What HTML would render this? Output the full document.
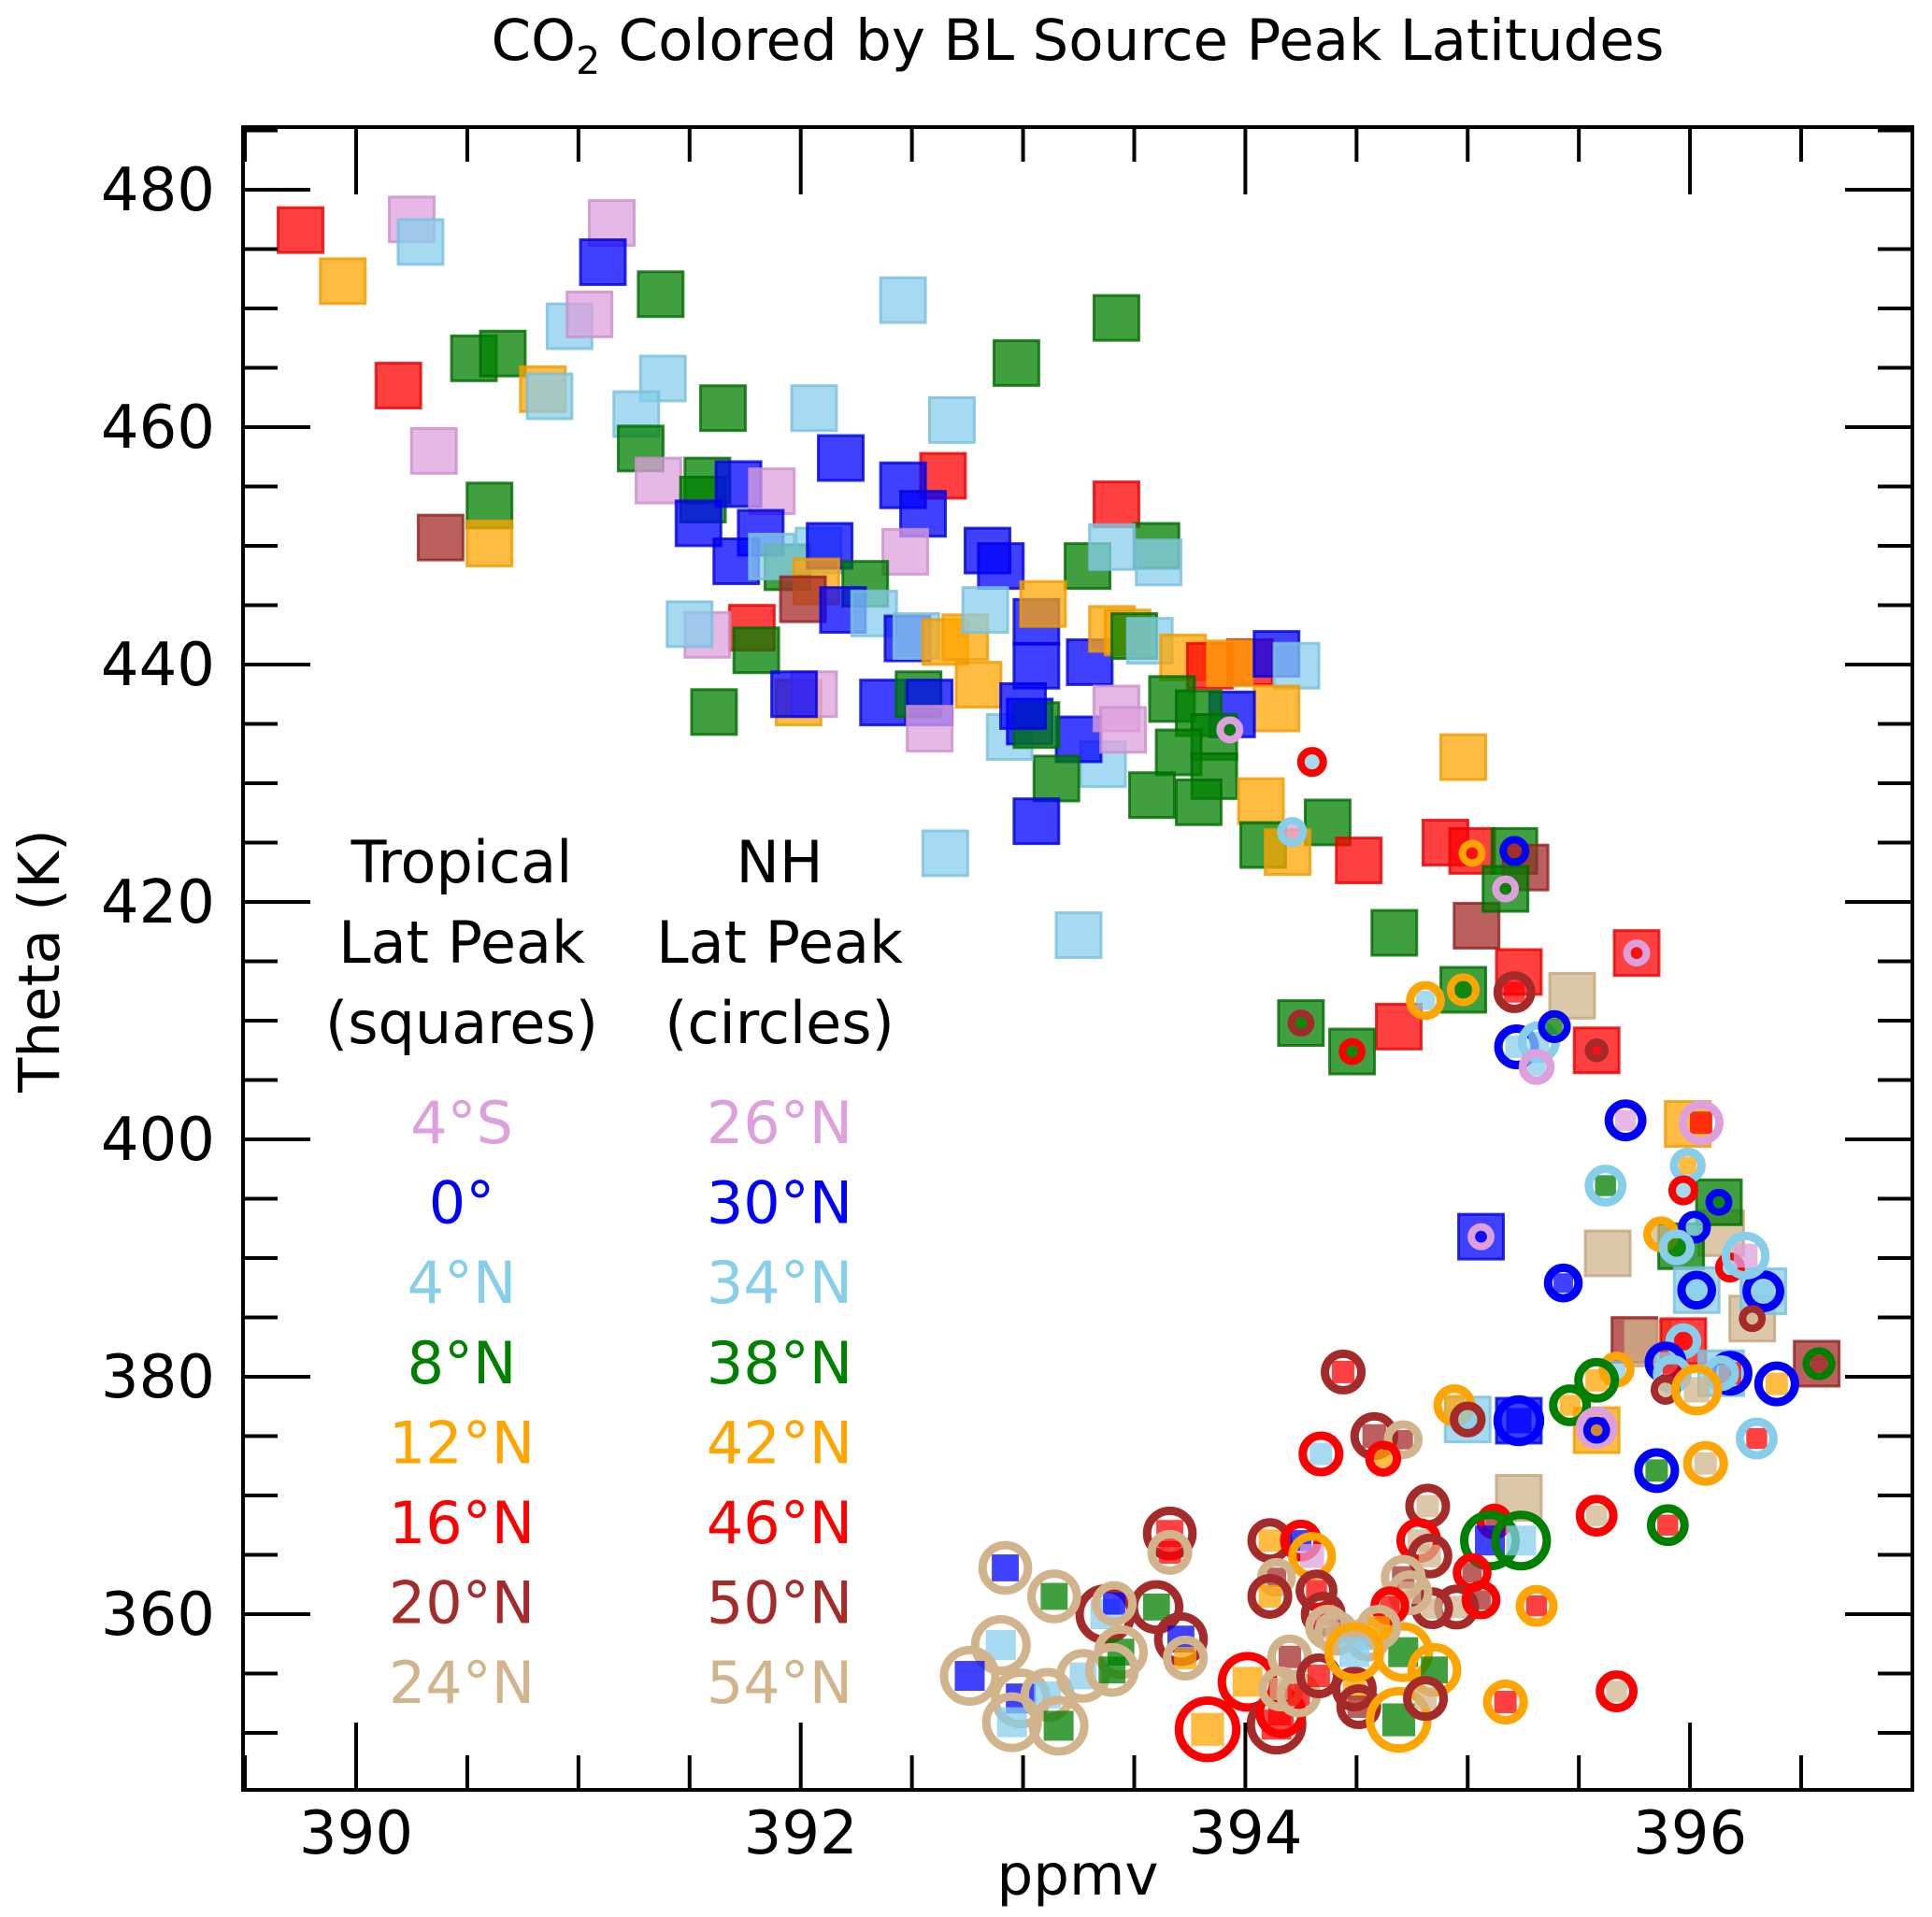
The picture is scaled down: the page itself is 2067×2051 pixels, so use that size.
<!DOCTYPE html>
<html><head><meta charset="utf-8"><style>
html,body{margin:0;padding:0;background:#fff;}
svg{display:block;font-family:"DejaVu Sans","Liberation Sans",sans-serif;}
</style></head><body>
<svg id="chart" xmlns="http://www.w3.org/2000/svg" width="2067" height="2051" viewBox="0 0 2067 2051">
<rect width="2067" height="2051" fill="#fff"/>
<text x="1153" y="64" font-size="61" text-anchor="middle">CO<tspan font-size="41" dy="15">2</tspan><tspan dy="-15"> Colored by BL Source Peak Latitudes</tspan></text>
<g id="marks"></g>
<g id="axes"></g>
<text x="1153" y="2027" font-size="61" text-anchor="middle">ppmv</text>
<text transform="translate(63,1028) rotate(-90)" font-size="61" text-anchor="middle">Theta (K)</text>
<g font-size="62" text-anchor="middle">
<text x="494" y="944">Tropical</text>
<text x="494" y="1030">Lat Peak</text>
<text x="494" y="1116">(squares)</text>
<text x="834" y="944">NH</text>
<text x="834" y="1030">Lat Peak</text>
<text x="834" y="1116">(circles)</text>
</g>
<g id="legend-entries" font-size="62" text-anchor="middle"></g>
</svg>
<script>
const colors = ["#dda0dd","#0000ff","#87ceeb","#008000","#ffa500","#ff0000","#a52a2a","#d2b48c"];
const dark = ["#cc8fcc","#0000e0","#78bfdc","#006a00","#f09a00","#e80000","#922020","#c4a47c"];
const tropLabels = ["4°S","0°","4°N","8°N","12°N","16°N","20°N","24°N"];
const nhLabels = ["26°N","30°N","34°N","38°N","42°N","46°N","50°N","54°N"];
const xTicks = [390,392,394,396];
const yTicks = [360,380,400,420,440,460,480];

// squares: ppmv, theta, color index
const sqX = [389.75,389.94,390.25,390.29,391.15,391.11,390.96,391.05,391.37,390.53,390.66,390.84,390.87,390.19,390.35,390.60,390.60,390.38,392.46,393.42,392.97,391.38,391.26,391.28,391.65,392.06,392.68,392.18,392.64,393.42,391.36,391.58,391.56,391.72,391.87,391.54,391.82,391.71,392.46,392.55,392.47,393.60,393.61,393.29,393.40,392.84,392.90,391.94,391.87,392.08,392.13,392.07,392.01,392.29,392.19,392.33,391.78,391.80,391.58,391.50,392.48,392.52,392.65,392.74,392.80,392.83,393.06,393.09,393.06,393.30,393.40,393.47,393.50,393.57,393.72,393.84,394.02,393.93,394.14,394.23,394.14,393.94,393.67,393.79,393.86,393.70,393.86,393.58,393.79,393.36,393.25,393.15,393.42,393.45,393.06,392.94,393.03,393.06,393.00,392.37,392.53,392.58,392.58,391.99,392.06,391.97,391.61,392.65,393.25,394.07,394.37,394.08,394.19,394.51,394.98,394.67,395.04,394.90,395.02,395.21,395.26,394.69,395.23,395.47,395.58,395.76,395.06,395.63,396.14,395.75,395.81,396.28,396.57,394.25,394.48,394.98,395.17,395.99,396.13,395.96,396.33,396.03,395.97,396.14,395.00,395.23,395.58,395.23];
const sqY = [476.6,472.3,477.5,475.6,477.2,473.9,468.5,469.5,471.2,465.8,466.2,463.2,462.6,463.5,458.0,453.4,450.2,450.7,470.7,469.2,465.4,464.1,461.1,458.2,461.6,461.6,460.6,457.4,455.9,453.5,455.5,455.5,453.9,455.2,454.6,451.9,451.1,448.7,455.1,452.7,449.5,450.0,448.6,448.3,449.9,449.6,448.3,448.2,449.1,449.6,450.0,447.0,445.5,446.8,444.6,444.3,443.1,441.2,442.5,443.4,442.2,442.4,441.9,442.3,438.3,444.6,443.6,445.1,439.9,440.2,443.0,442.7,442.4,442.0,440.6,439.9,440.2,440.1,440.9,439.9,436.3,435.8,437.1,435.9,433.9,432.6,430.6,429.0,428.4,431.6,433.7,430.4,436.3,434.5,426.8,433.9,435.2,434.9,436.5,436.8,437.5,436.8,434.6,436.8,437.5,437.5,436.0,424.1,417.2,428.5,426.7,424.8,424.2,423.5,432.2,417.4,418.0,425.0,424.3,424.3,422.9,409.5,414.1,412.1,407.5,415.7,391.8,390.4,392.1,383.1,382.8,384.9,381.1,409.8,407.4,412.6,421.1,401.3,394.7,391.0,387.2,387.3,383.0,380.3,376.4,376.3,375.5,369.8];
const sqC = [5,4,0,2,0,1,2,0,3,3,3,4,2,5,0,3,4,6,2,3,3,2,2,3,3,2,2,1,5,5,0,3,3,1,0,1,1,1,1,1,0,3,2,3,2,1,1,3,2,2,1,4,6,3,1,2,5,3,0,2,1,2,4,4,4,2,1,4,1,1,4,4,3,2,4,5,5,4,1,2,4,1,3,3,3,3,3,3,3,2,1,3,0,0,1,2,1,3,1,1,3,1,0,4,0,1,3,2,2,4,3,3,4,5,4,3,6,5,5,3,6,5,5,7,5,5,1,7,7,6,7,7,6,3,3,3,3,4,3,3,2,2,5,2,2,1,4,7];

// circles: ppmv, theta, ring color, inner color, marker size
const ciX = [394.30,393.93,394.21,395.02,395.21,395.17,394.25,394.48,394.81,394.98,395.21,395.22,395.32,395.39,395.31,395.58,395.76,395.71,396.05,395.99,395.62,396.13,395.87,396.02,395.94,395.97,395.06,395.43,396.03,396.33,396.18,396.25,396.28,394.44,395.97,395.89,395.92,396.18,396.14,396.39,396.58,395.67,395.58,395.46,394.94,395.00,395.23,395.58,395.58,395.89,396.03,396.30,395.85,396.07,395.58,395.90,394.34,394.58,394.71,394.62,394.82,394.78,394.83,395.12,395.10,395.24,395.02,394.95,395.06,394.84,395.31,395.67,395.17,394.71,394.74,394.11,394.25,394.30,394.14,394.32,394.11,394.35,394.37,394.01,393.83,394.14,394.16,394.20,394.16,394.24,394.33,394.49,394.51,394.55,394.69,394.71,394.85,394.81,394.65,394.60,394.41,394.49,393.66,393.66,393.60,393.37,393.41,393.44,393.71,393.73,392.92,393.14,392.90,392.76,392.99,393.11,392.95,393.16,393.27,393.40];
const ciY = [431.8,434.5,425.9,424.1,424.3,421.1,409.8,407.4,411.7,412.6,412.4,407.8,408.2,409.5,406.1,407.5,415.7,401.6,401.4,397.8,396.1,394.7,392.0,392.6,390.9,395.7,391.8,387.9,387.3,387.2,389.2,390.2,384.9,380.4,383.0,381.2,380.2,380.3,380.3,379.4,381.1,380.6,379.7,377.6,377.6,376.4,376.3,375.7,375.5,378.9,378.9,374.8,372.1,372.7,368.3,367.5,373.5,375.0,374.7,373.1,369.1,366.2,364.9,367.8,366.2,366.2,363.5,360.6,361.2,360.5,360.7,353.5,352.6,363.1,361.8,366.2,366.2,364.9,363.1,362.0,361.5,360.0,358.9,354.3,350.3,350.7,351.7,356.4,353.7,353.2,354.8,353.7,352.2,357.9,351.1,356.8,355.3,352.9,360.7,358.9,358.4,356.8,366.8,365.2,360.6,360.0,360.9,356.8,357.9,356.3,363.9,361.5,357.4,354.8,352.9,353.2,350.9,350.6,354.8,355.3];
const ciRing = [5,0,2,4,1,0,6,5,4,4,6,1,2,1,0,6,0,1,0,2,2,1,4,1,2,5,0,1,1,1,5,2,6,6,2,1,2,1,2,1,3,4,3,3,4,6,1,0,1,6,4,2,1,4,5,3,5,6,7,5,6,5,6,5,3,3,5,6,5,6,4,5,4,7,7,6,5,4,7,6,6,6,7,5,5,6,5,7,7,7,6,6,6,7,4,4,4,6,5,7,7,4,6,7,6,6,7,7,6,7,7,7,7,7,7,7,7,7,7,7];
const ciFill = [2,3,0,5,6,3,3,3,2,3,5,2,2,3,2,5,5,0,5,4,3,3,7,2,3,2,1,1,2,2,2,0,7,5,5,2,5,5,2,4,6,2,4,4,4,2,1,1,4,7,7,5,3,7,7,5,2,6,6,4,7,7,7,6,1,2,6,7,6,7,5,7,5,6,7,4,1,0,6,5,4,5,7,4,4,5,5,6,7,5,5,4,6,2,3,3,3,7,5,4,7,2,5,5,3,2,1,3,1,4,1,3,2,1,1,2,2,3,2,3];
const ciSize = [20,18,20,18,20,18,18,18,26,22,28,30,28,22,24,16,18,28,30,24,28,18,24,22,24,20,18,26,26,28,20,32,18,30,24,28,26,30,24,30,22,24,30,28,28,24,34,28,18,20,34,28,30,30,28,28,30,32,26,24,30,30,30,24,40,40,26,30,26,28,28,28,30,30,30,30,28,32,26,28,30,30,30,40,44,40,34,30,30,30,30,30,30,30,44,40,36,30,26,30,30,40,36,30,36,40,30,36,36,30,36,36,40,40,40,36,40,40,36,36];

const L=260,R=2046,T=136,B=1915;
function X(v){return 381+(v-390)*237.85;}
function Y(v){return 203+(480-v)*12.70;}
const NS="http://www.w3.org/2000/svg";
function mk(tag,attrs,parent){const e=document.createElementNS(NS,tag);for(const k in attrs)e.setAttribute(k,attrs[k]);parent.appendChild(e);return e;}
const marks=document.getElementById('marks');
const clip=mk('clipPath',{id:'pc'},marks);mk('rect',{x:L,y:T,width:R-L,height:B-T},clip);
marks.setAttribute('clip-path','url(#pc)');
const S=48;
for(let i=0;i<sqX.length;i++){
  const r=mk('rect',{x:X(sqX[i])-S/2,y:Y(sqY[i])-S/2,width:S,height:S,fill:colors[sqC[i]],'fill-opacity':0.75,stroke:dark[sqC[i]],'stroke-opacity':0.8,'stroke-width':3},marks);
  
  
}
const k=1.6;
for(let i=0;i<ciX.length;i++){
  const cx=X(ciX[i]),cy=Y(ciY[i]),d=ciSize[i]*k;
  const s=d*0.5;
  const q=mk('rect',{x:cx-s/2,y:cy-s/2,width:s,height:s,fill:colors[ciFill[i]],'fill-opacity':0.75},marks);
  
  
  const sw=d<36?8:9;
  const c=mk('circle',{cx:cx,cy:cy,r:d/2-sw/2,fill:'none',stroke:colors[ciRing[i]],'stroke-width':sw},marks);
  
  
}
const axes=document.getElementById('axes');
const fr=mk('rect',{x:L,y:T,width:R-L,height:B-T,fill:'none',stroke:'#000','stroke-width':4},axes);


for(let v=389.5;v<=397.01;v+=0.5){
  const x=X(v); if(x<L+2||x>R-2)continue;
  const major=Math.abs(v-Math.round(v/2)*2)<0.01;
  const len=major?72:37;
  const t1=mk('line',{x1:x,y1:T,x2:x,y2:T+len,stroke:'#000','stroke-width':4},axes);
  
  
  const t2=mk('line',{x1:x,y1:B,x2:x,y2:B-len,stroke:'#000','stroke-width':4},axes);
  
  
}
for(let v=345;v<=485;v+=5){
  const y=Y(v); if(y<T+2||y>B-2)continue;
  const major=v%20===0;
  const len=major?72:37;
  const t1=mk('line',{x1:L,y1:y,x2:L+len,y2:y,stroke:'#000','stroke-width':4},axes);
  
  
  const t2=mk('line',{x1:R,y1:y,x2:R-len,y2:y,stroke:'#000','stroke-width':4},axes);
  
  
}
xTicks.forEach(v=>{
  const t=mk('text',{x:X(v),y:1983,'font-size':64,'text-anchor':'middle'},axes);t.textContent=v;
  
  
});
yTicks.forEach(v=>{
  const t=mk('text',{x:230,y:Y(v)+22,'font-size':64,'text-anchor':'end'},axes);t.textContent=v;
  
  
});
const le=document.getElementById('legend-entries');
for(let i=0;i<8;i++){
  const y=1223+i*85.6;
  const a=mk('text',{x:494,y:y,fill:colors[i]},le);a.textContent=tropLabels[i];
  
  
  const b=mk('text',{x:834,y:y,fill:colors[i]},le);b.textContent=nhLabels[i];
  
  
}
</script>
</body></html>
